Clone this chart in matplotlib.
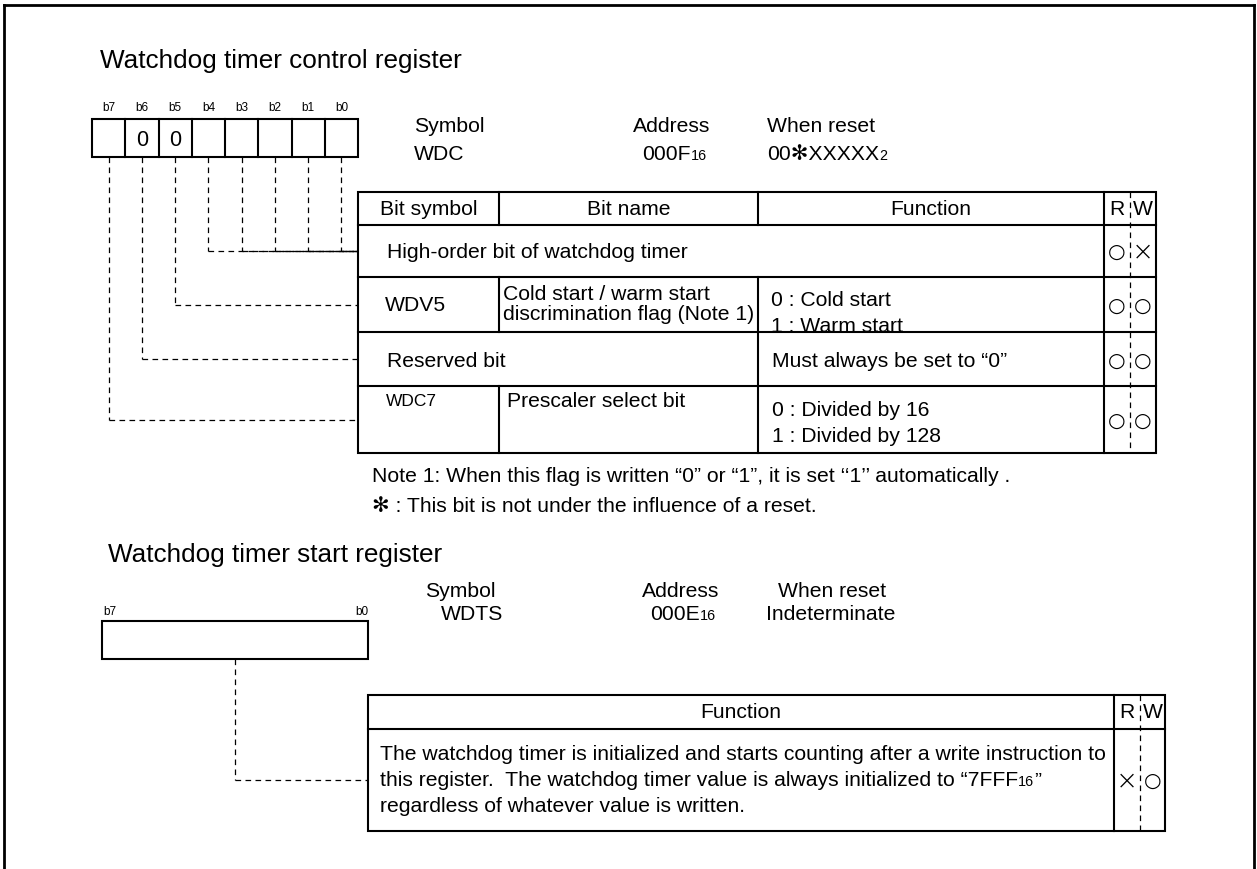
import matplotlib
matplotlib.use("Agg")
import matplotlib.pyplot as plt

FAM = ["Liberation Sans", "DejaVu Sans"]
plt.rcParams["font.family"] = FAM

# ---- register 1: watchdog timer control register ----
title1 = "Watchdog timer control register"
bit_labels = ["b7", "b6", "b5", "b4", "b3", "b2", "b1", "b0"]
bit_values = ["", "0", "0", "", "", "", "", ""]
bit_rows = [3, 2, 1, 0, 0, 0, 0, 0]      # table row each bit is wired to
info1 = ["Symbol", "WDC", "Address", "000F", "16", "When reset", "00\u273bXXXXX", "2"]

header = ["Bit symbol", "Bit name", "Function", "R", "W"]
row_symbols = ["", "WDV5", "", "WDC7"]
row_names = ["High-order bit of watchdog timer",
             "Cold start / warm start\ndiscrimination flag (Note 1)",
             "Reserved bit",
             "Prescaler select bit"]
row_functions = ["",
                 "0 : Cold start\n1 : Warm start",
                 "Must always be set to \u201c0\u201d",
                 "0 : Divided by 16\n1 : Divided by 128"]
row_read = ["\u25cb", "\u25cb", "\u25cb", "\u25cb"]
row_write = ["\u00d7", "\u25cb", "\u25cb", "\u25cb"]
notes = ["Note 1: When this flag is written \u201c0\u201d or \u201c1\u201d, it is set \u2018\u20181\u2019\u2019 automatically .",
         "\u273b : This bit is not under the influence of a reset."]

# ---- register 2: watchdog timer start register ----
title2 = "Watchdog timer start register"
info2 = ["Symbol", "WDTS", "Address", "000E", "16", "When reset", "Indeterminate"]
func2 = ["The watchdog timer is initialized and starts counting after a write instruction to",
         "this register.  The watchdog timer value is always initialized to \u201c7FFF",
         "regardless of whatever value is written."]
read2 = "\u00d7"
write2 = "\u25cb"

fig = plt.figure(figsize=(12.57, 8.7), dpi=100)
ax = fig.add_axes([0, 0, 1, 1])
ax.set_xlim(0, 1257)
ax.set_ylim(870, 0)
ax.axis("off")

FS = 15.2
LW = 1.5
DLW = 0.9
DASH = (0, (4.5, 3.5))


def line(x0, y0, x1, y1, lw=LW, ls="-"):
    ax.plot([x0, x1], [y0, y1], color="black", lw=lw, ls=ls, solid_capstyle="projecting")


def txt(x, y, s, size=FS, ha="left", va="center", fam=FAM, **kw):
    return ax.text(x, y, s, fontsize=size, ha=ha, va=va, family=fam, color="black", **kw)


def mark(x, y, s):
    # circle / cross marks in the R and W columns
    if s == "\u25cb":
        txt(x, y, s, size=14.5, ha="center", fam=["DejaVu Sans"])
    else:
        txt(x, y, s, size=19, ha="center", fam=["DejaVu Sans"], fontweight="light")


def sub(x, y, main, small, size=FS, ha="left"):
    t = txt(x, y, main, size=size, ha=ha, va="center")
    return ax.annotate(small, xy=(1, 0.08), xycoords=t, fontsize=size * 0.68, ha="left",
                       va="bottom", family=FAM)


# outer frame (open at the bottom)
line(4, 870, 4, 6, lw=2)
line(4, 6, 1254, 6, lw=2)
line(1254, 6, 1254, 870, lw=2)

# ===== control register =====
txt(100, 61, title1, size=18.8)

rx0, rx1, ry0, ry1 = 92, 358, 120, 158
cw = (rx1 - rx0) / len(bit_labels)
for i, (lab, val) in enumerate(zip(bit_labels, bit_values)):
    cx = rx0 + cw * (i + 0.5)
    txt(cx, 108, lab, size=8.5, ha="center")
    if val:
        txt(cx, 140, val, size=15.5, ha="center")
ax.add_patch(plt.Rectangle((rx0, ry0), rx1 - rx0, ry1 - ry0, fill=False, lw=LW))
for i in range(1, len(bit_labels)):
    line(rx0 + cw * i, ry0, rx0 + cw * i, ry1)

txt(414, 127, info1[0])
txt(414, 155, info1[1])
txt(633, 127, info1[2])
sub(642, 155, info1[3], info1[4])
txt(767, 127, info1[5])
sub(767, 155, info1[6], info1[7])

# table geometry
tx0, tx1 = 358, 1156
c_sym, c_name, c_fun, c_rw = 499, 758, 1104, 1130
ys = [193, 226, 278, 333, 387, 454]
row_mid = [(ys[k + 1] + ys[k + 2]) / 2 for k in range(4)]

# dashed leader lines from bits to rows
for i, r in enumerate(bit_rows):
    cx = rx0 + cw * (i + 0.5)
    yy = row_mid[r]
    line(cx, ry1, cx, yy, lw=DLW, ls=DASH)
    line(cx, yy, tx0, yy, lw=DLW, ls=DASH)

# table frame
ax.add_patch(plt.Rectangle((tx0, ys[0]), tx1 - tx0, ys[-1] - ys[0], fill=False, lw=LW, zorder=3))
for y in ys[1:-1]:
    line(tx0, y, tx1, y)
line(c_fun, ys[0], c_fun, ys[-1])
line(c_rw, ys[0], c_rw, ys[-1], lw=DLW, ls=DASH)
line(c_name, ys[0], c_name, ys[1])
line(c_name, ys[2], c_name, ys[5])
line(c_sym, ys[0], c_sym, ys[1])
line(c_sym, ys[2], c_sym, ys[3])
line(c_sym, ys[4], c_sym, ys[5])

hy = (ys[0] + ys[1]) / 2
txt((tx0 + c_sym) / 2, hy, header[0], ha="center")
txt((c_sym + c_name) / 2, hy, header[1], ha="center")
txt((c_name + c_fun) / 2, hy, header[2], ha="center")
txt((c_fun + c_rw) / 2, hy, header[3], ha="center")
txt((c_rw + tx1) / 2, hy, header[4], ha="center")

# row 0: merged across symbol/name/function
txt(387, row_mid[0], row_names[0])
# row 1
txt(385, row_mid[1], row_symbols[1])
txt(503, row_mid[1] - 1, row_names[1], linespacing=1.12)
txt(771, row_mid[1] + 8, row_functions[1], linespacing=1.5)
# row 2: merged symbol/name
txt(387, row_mid[2] + 2, row_names[2])
txt(772, row_mid[2] + 2, row_functions[2])
# row 3
txt(386, 402, row_symbols[3], size=12.5)
txt(507, 402, row_names[3])
txt(772, row_mid[3] + 3, row_functions[3], linespacing=1.45)

for k in range(4):
    yy = row_mid[k] + (1 if k else 0)
    mark((c_fun + c_rw) / 2, yy, row_read[k])
    mark((c_rw + tx1) / 2, yy, row_write[k])

txt(372, 477, notes[0])
txt(372, 507, notes[1])

# ===== start register =====
txt(108, 555, title2, size=18.8)

sx0, sx1, sy0, sy1 = 102, 368, 622, 660
ax.add_patch(plt.Rectangle((sx0, sy0), sx1 - sx0, sy1 - sy0, fill=False, lw=LW))
txt(sx0 + 1, 612, bit_labels[0], size=8.5)
txt(sx1, 612, bit_labels[-1], size=8.5, ha="right")

txt(425, 592, info2[0])
txt(441, 615, info2[1])
txt(642, 592, info2[2])
sub(650, 615, info2[3], info2[4])
txt(778, 592, info2[5])
txt(766, 615, info2[6])

ux0, ux1 = 368, 1165
u_fun, u_rw = 1114, 1140
uys = [696, 730, 832]
mid2 = (uys[1] + uys[2]) / 2

line((sx0 + sx1) / 2, sy1, (sx0 + sx1) / 2, mid2, lw=DLW, ls=DASH)
line((sx0 + sx1) / 2, mid2, ux0, mid2, lw=DLW, ls=DASH)

ax.add_patch(plt.Rectangle((ux0, uys[0]), ux1 - ux0, uys[2] - uys[0], fill=False, lw=LW, zorder=3))
line(ux0, uys[1], ux1, uys[1])
line(u_fun, uys[0], u_fun, uys[2])
line(u_rw, uys[0], u_rw, uys[2], lw=DLW, ls=DASH)

hy2 = (uys[0] + uys[1]) / 2
txt((ux0 + u_fun) / 2, hy2, header[2], ha="center")
txt((u_fun + u_rw) / 2, hy2, header[3], ha="center")
txt((u_rw + ux1) / 2, hy2, header[4], ha="center")

for j, s in enumerate(func2):
    yy = mid2 - 26 + 26 * j
    if j == 1:
        t = txt(380, yy, s)
        s16 = ax.annotate("16", xy=(1, 0.08), xycoords=t, fontsize=FS * 0.68, ha="left",
                          va="bottom", family=FAM)
        ax.annotate("\u201d", xy=(1, -0.12), xycoords=s16, fontsize=FS, ha="left",
                    va="bottom", family=FAM)
    else:
        txt(380, yy, s)
mark((u_fun + u_rw) / 2, mid2, read2)
mark((u_rw + ux1) / 2, mid2, write2)

fig.savefig("out.png", dpi=100)
